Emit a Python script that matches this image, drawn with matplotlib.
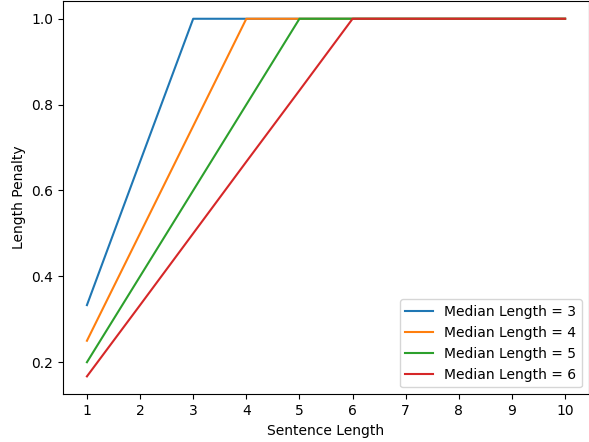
import matplotlib
matplotlib.use("Agg")
import matplotlib.pyplot as plt

lengths = [1, 2, 3, 4, 5, 6, 7, 8, 9, 10]
medians = [3, 4, 5, 6]
penalty_m3 = [0.333, 0.667, 1.0, 1.0, 1.0, 1.0, 1.0, 1.0, 1.0, 1.0]
penalty_m4 = [0.25, 0.5, 0.75, 1.0, 1.0, 1.0, 1.0, 1.0, 1.0, 1.0]
penalty_m5 = [0.2, 0.4, 0.6, 0.8, 1.0, 1.0, 1.0, 1.0, 1.0, 1.0]
penalty_m6 = [0.167, 0.333, 0.5, 0.667, 0.833, 1.0, 1.0, 1.0, 1.0, 1.0]
penalties = [penalty_m3, penalty_m4, penalty_m5, penalty_m6]

fig = plt.figure(figsize=(5.89, 4.42), dpi=100)
ax = fig.add_axes([0.107, 0.108, 0.893, 0.890])

for m, p in zip(medians, penalties):
    ax.plot(lengths, p, label="Median Length = %d" % m)

ax.set_xticks(lengths)
ax.set_xlabel("Sentence Length")
ax.set_ylabel("Length Penalty")
ax.legend(loc="lower right")

fig.savefig("out.png", dpi=100)
